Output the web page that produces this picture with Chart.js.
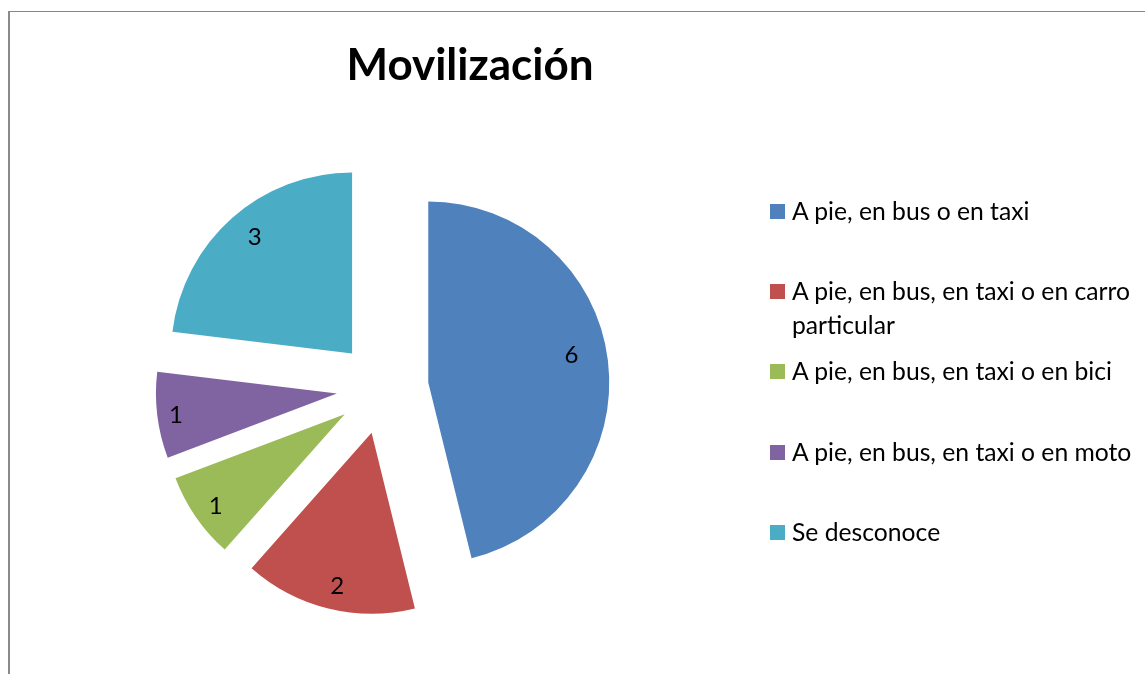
<!DOCTYPE html>
<html>
<head>
<meta charset="utf-8">
<script src="https://cdn.jsdelivr.net/npm/chart.js@4.4.0/dist/chart.umd.min.js"></script>
<style>
html,body{margin:0;padding:0;background:#fff;width:1145px;height:674px;overflow:hidden;}
body{position:relative;font-family:Lato,"Noto Sans",sans-serif;}
#frame{position:absolute;left:8px;top:11px;width:1200px;height:700px;border-top:1px solid #878787;border-left:2px solid #8a8a8a;box-sizing:border-box;}
#wrap{position:absolute;left:0;top:0;width:1145px;height:674px;}
#title{position:absolute;left:0;width:940px;top:41px;text-align:center;font-family:Lato;font-weight:bold;font-size:44px;line-height:44px;color:#000;white-space:nowrap;}
#legend{position:absolute;left:770px;top:194px;width:375px;}
.item{display:flex;align-items:flex-start;height:80.2px;}
.sw{width:15px;height:15px;flex:none;margin-top:10px;margin-right:7px;}
.txt{font-family:Lato;font-size:24.7px;line-height:33.4px;color:#000;width:352px;}
</style>
</head>
<body>
<div id="frame"></div>
<div id="wrap"><canvas id="c"></canvas></div>
<div id="title">Movilización</div>
<div id="legend"></div>
<script>
const chartTitle = "Movilización";
const categories = [
  "A pie, en bus o en taxi",
  "A pie, en bus, en taxi o en carro particular",
  "A pie, en bus, en taxi o en bici",
  "A pie, en bus, en taxi o en moto",
  "Se desconoce"
];
const values = [6, 2, 1, 1, 3];
const colors = ["#4F81BD", "#C0504D", "#9BBB59", "#8064A2", "#4BACC6"];

// HTML legend built from the arrays
const legend = document.getElementById('legend');
categories.forEach((cat, i) => {
  const it = document.createElement('div'); it.className = 'item';
  const sw = document.createElement('div'); sw.className = 'sw'; sw.style.background = colors[i];
  const tx = document.createElement('div'); tx.className = 'txt'; tx.textContent = cat;
  it.appendChild(sw); it.appendChild(tx); legend.appendChild(it);
});
document.getElementById('title').textContent = chartTitle;

// Explode every slice away from the centre by a fixed distance
const explodePlugin = {
  id: 'explode',
  beforeDatasetDraw(chart, args, opts) {
    const ctx = chart.ctx;
    args.meta.data.forEach(arc => {
      const mid = (arc.startAngle + arc.endAngle) / 2;
      ctx.save();
      ctx.translate(Math.cos(mid) * opts.distance, Math.sin(mid) * opts.distance);
      arc.draw(ctx, chart.chartArea);
      ctx.restore();
    });
    return false;
  }
};

// Value labels inside the slices
const labelPlugin = {
  id: 'sliceLabels',
  afterDatasetsDraw(chart, args, opts) {
    const ctx = chart.ctx;
    const dist = chart.options.plugins.explode.distance;
    const meta = chart.getDatasetMeta(0);
    const ds = chart.data.datasets[0];
    ctx.save();
    ctx.font = opts.font;
    ctx.fillStyle = opts.color;
    ctx.textAlign = 'center';
    ctx.textBaseline = 'alphabetic';
    meta.data.forEach((arc, i) => {
      const mid = (arc.startAngle + arc.endAngle) / 2;
      const p = opts.place[i];
      const ax = arc.x + Math.cos(mid) * dist, ay = arc.y + Math.sin(mid) * dist;
      const a = mid + p.a * Math.PI / 180;
      const r = arc.outerRadius * p.f;
      const x = ax + Math.cos(a) * r, y = ay + Math.sin(a) * r;
      ctx.fillText(String(ds.data[i]), x, y + opts.size * 0.36);
    });
    ctx.restore();
  }
};

new Chart(document.getElementById('c'), {
  type: 'pie',
  data: {
    labels: categories,
    datasets: [{
      data: values,
      backgroundColor: colors,
      borderWidth: 0,
      radius: 181
    }]
  },
  options: {
    responsive: true,
    maintainAspectRatio: false,
    animation: false,
    events: [],
    layout: { padding: { left: 0, right: 379.8, top: 102, bottom: 0 } },
    plugins: {
      legend: { display: false },
      title: { display: false },
      tooltip: { enabled: false },
      explode: { distance: 46 },
      sliceLabels: {
        font: '24px Lato',
        size: 24,
        color: '#000',
        place: [
          { f: 0.806, a: -4.3 },
          { f: 0.865, a: -1.2 },
          { f: 0.874, a: -0.8 },
          { f: 0.896, a: -0.4 },
          { f: 0.843, a: 1.9 }
        ]
      }
    }
  },
  plugins: [explodePlugin, labelPlugin]
});
</script>
</body>
</html>
